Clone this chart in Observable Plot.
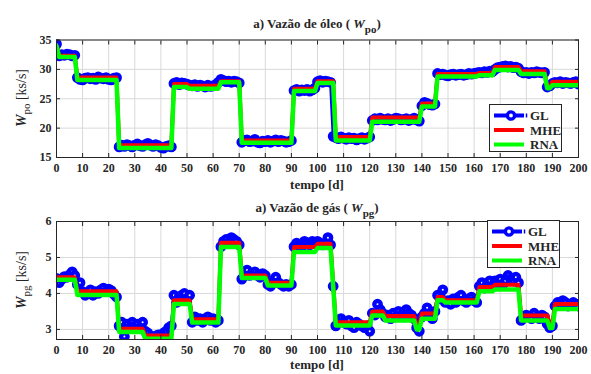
<!DOCTYPE html>
<html><head><meta charset="utf-8">
<script src="https://cdn.jsdelivr.net/npm/d3@7"></script>
<script src="https://cdn.jsdelivr.net/npm/@observablehq/plot@0.6"></script>
<style>
body{margin:0;background:#fff;}
#c{position:relative;width:591px;height:374px;overflow:hidden;color:#262626;background:#fff}
.p{position:absolute;left:0}
.t{position:absolute;font-size:13px;font-weight:bold;white-space:nowrap;transform:translateX(-50%);line-height:1}
.t sub{font-size:11px;vertical-align:-5px;line-height:0}
.yl{position:absolute;font-size:14px;white-space:nowrap;transform:translate(-50%,-50%) rotate(-90deg);line-height:1}
.yl i{font-weight:bold}
.yl sub{font-size:11px;vertical-align:-4px;line-height:0}
.lg{position:absolute;background:#fff;border:1px solid #262626;width:73px;height:48px;box-sizing:border-box}
.lg svg{position:absolute;left:0;top:0;overflow:visible}
</style></head>
<body>
<div id="c"></div>
<script>
// ---------- data ----------
const xTicks = [0,10,20,30,40,50,60,70,80,90,100,110,120,130,140,150,160,170,180,190,200];
const yTicksPo = [15,20,25,30,35];
const yTicksPg = [3,4,5,6];
const seriesNames = ["GL","MHE","RNA"];

// GL measurements, one per day (d = 0..200)
const glPo = [
 34.3,32.3,32.5,32.4,32.6,32.5,32.3,32.4,
 28.6,28.3,28.2,28.5,28.6,28.4,28.5,28.3,28.7,28.5,28.4,28.6,28.3,28.2,28.5,28.6,
 16.8,17.1,16.9,17.2,17.0,16.8,17.1,17.3,17.0,16.9,17.2,17.4,17.1,16.9,17.2,17.0,16.7,16.6,16.9,17.0,16.8,
 27.6,27.8,27.4,27.7,27.6,27.5,27.3,27.2,27.4,27.1,27.3,27.2,27.0,27.3,27.1,27.2,27.4,27.8,
 28.3,28.1,27.9,28.0,27.8,28.0,27.9,27.7,
 17.6,17.9,18.0,17.7,17.8,18.1,17.6,17.5,17.8,17.7,17.9,17.6,17.8,18.0,17.7,17.9,17.8,17.6,17.7,17.9,
 26.4,26.6,26.3,26.5,26.4,26.6,26.3,26.5,26.8,
 27.9,28.1,27.8,28.0,27.9,27.8,
 18.6,18.4,18.2,18.5,18.3,18.1,18.4,18.2,18.3,18.0,18.2,18.4,18.1,18.3,18.5,
 21.3,21.6,21.4,21.7,21.5,21.4,21.6,21.3,21.5,21.7,21.6,21.4,21.5,21.6,21.3,21.5,21.7,21.4,21.2,
 23.8,24.4,24.2,24.0,23.9,24.1,
 29.3,29.1,29.2,29.0,28.9,29.1,29.2,29.0,29.1,29.2,29.0,29.1,29.3,29.2,29.3,29.4,
 29.5,29.4,29.6,29.5,29.7,29.6,
 30.0,30.3,30.4,30.5,30.6,30.4,30.5,30.3,30.4,30.2,
 29.6,29.4,29.5,29.3,29.5,29.4,29.6,29.5,29.4,29.5,
 27.0,27.2,
 27.6,27.8,27.7,27.9,27.6,27.8,27.7,27.6,27.8,27.9,27.5
];
// MHE / RNA estimates: [day, value] points
const mhePo = [[0,34.0],[1,32.3],[7,32.3],[8,28.6],[23,28.6],[24,17.1],[44,17.1],[45,27.5],[50,27.5],[51,27.2],[62,27.2],[63,28.0],[70,28.0],[71,17.9],[90,17.9],[91,26.7],[99,26.7],[100,28.0],[106,28.0],[107,18.5],[120,18.5],[121,21.8],[139,21.8],[140,24.2],[145,24.2],[146,29.2],[161,29.2],[162,29.4],[167,29.4],[168,30.4],[177,30.4],[178,29.7],[187,29.7],[188,27.1],[189,27.1],[190,27.9],[200,27.9]];
const rnaPo = [[0,34.0],[1,32.1],[7,32.1],[8,28.2],[23,28.2],[24,16.6],[44,16.6],[45,27.0],[50,27.0],[51,26.7],[62,26.7],[63,27.8],[70,27.8],[71,17.5],[90,17.5],[91,26.3],[99,26.3],[100,27.7],[106,27.7],[107,17.9],[120,17.9],[121,21.1],[139,21.1],[140,23.7],[145,23.7],[146,28.8],[161,28.8],[162,29.0],[167,29.0],[168,29.9],[177,29.9],[178,29.2],[187,29.2],[188,26.8],[189,26.8],[190,27.3],[200,27.3]];

const glPg = [
 4.42,4.30,4.40,4.47,4.45,4.52,4.60,4.50,
 4.25,4.30,4.05,3.95,4.00,4.10,3.95,4.05,4.00,4.10,4.15,4.05,4.12,4.08,3.98,3.90,
 3.10,3.20,2.80,3.15,3.05,3.20,3.10,3.15,3.05,3.20,
 2.95,2.90,2.80,2.78,2.82,2.85,2.80,2.90,2.95,3.05,3.10,
 3.95,3.75,3.90,3.95,4.00,3.85,3.95,
 3.20,3.35,3.25,3.30,3.20,3.30,3.35,3.25,3.30,3.20,3.25,
 5.30,5.45,5.50,5.40,5.55,5.50,5.45,5.35,
 4.40,4.55,4.65,4.50,4.55,4.60,4.50,4.45,4.55,4.50,
 4.25,4.20,4.35,4.45,4.30,4.25,4.20,4.25,4.20,4.25,
 5.30,5.40,5.35,5.30,5.45,5.40,5.35,5.45,5.40,
 5.45,5.40,5.35,5.40,5.55,5.35,
 4.20,
 3.10,3.25,3.30,3.20,3.15,3.25,3.10,3.05,3.20,3.15,3.10,3.05,3.10,2.95,
 3.45,3.40,3.70,3.55,3.45,
 3.35,3.40,3.30,3.45,3.35,3.50,3.40,3.35,3.55,3.45,3.40,3.30,
 3.05,2.95,
 3.35,3.45,3.60,3.40,3.30,3.50,
 3.95,3.85,4.10,3.75,3.80,3.70,3.85,3.75,3.90,3.95,3.80,3.75,3.85,3.90,3.80,3.75,
 4.20,4.30,4.15,4.25,4.35,4.20,4.35,4.30,4.40,4.25,4.35,4.50,4.40,4.35,4.45,4.30,
 3.25,3.35,3.40,3.35,3.30,3.45,3.35,3.30,3.40,3.35,3.15,
 3.05,3.10,
 3.65,3.75,3.70,3.80,3.75,3.65,3.70,3.75,3.70,3.65
];
const mhePg = [[0,4.45],[7,4.45],[8,4.06],[23,4.06],[24,3.02],[33,3.02],[34,2.83],[44,2.83],[45,3.81],[51,3.81],[52,3.28],[62,3.28],[63,5.41],[70,5.41],[71,4.50],[80,4.50],[81,4.30],[90,4.30],[91,5.29],[99,5.29],[100,5.38],[105,5.38],[107,3.20],[120,3.20],[121,3.50],[125,3.50],[126,3.37],[137,3.37],[138,3.13],[139,3.13],[140,3.44],[145,3.44],[146,3.90],[148,3.90],[149,3.81],[161,3.81],[162,4.18],[167,4.18],[168,4.24],[177,4.24],[178,3.39],[188,3.39],[189,3.16],[190,3.16],[191,3.71],[200,3.71]];
const rnaPg = [[0,4.38],[7,4.38],[8,3.96],[23,3.96],[24,2.93],[33,2.93],[34,2.74],[44,2.74],[45,3.71],[51,3.71],[52,3.19],[62,3.19],[63,5.29],[70,5.29],[71,4.43],[80,4.43],[81,4.22],[90,4.22],[91,5.15],[99,5.15],[100,5.26],[105,5.26],[107,3.11],[120,3.11],[121,3.39],[125,3.39],[126,3.25],[137,3.25],[138,3.00],[139,3.00],[140,3.30],[145,3.30],[146,3.81],[148,3.81],[149,3.75],[161,3.75],[162,4.06],[167,4.06],[168,4.11],[177,4.11],[178,3.25],[188,3.25],[189,3.04],[190,3.04],[191,3.57],[200,3.57]];

// ---------- font: pick an installed Times-like serif ----------
function pickFont(cands) {
  const ctx = document.createElement("canvas").getContext("2d");
  const probe = "MHE Vazão de óleo 0123456789 mmmWWiil";
  ctx.font = "bold 30px monospace"; const wm = ctx.measureText(probe).width;
  ctx.font = "bold 30px sans-serif"; const ws = ctx.measureText(probe).width;
  for (const f of cands) {
    ctx.font = `bold 30px "${f}", monospace`; const a = ctx.measureText(probe).width;
    ctx.font = `bold 30px "${f}", sans-serif`; const b = ctx.measureText(probe).width;
    if (a !== wm || b !== ws) return `"${f}", serif`;
  }
  return "serif";
}
const FONT = pickFont(["Liberation Serif", "Times New Roman", "Tinos", "Nimbus Roman", "Times", "DejaVu Serif"]);

// ---------- drawing ----------
const BLUE = "#0000ff", RED = "#ff0000", GREEN = "#00ff00", INK = "#262626";
const container = document.getElementById("c");
container.style.fontFamily = FONT;

function panel(gl, mhe, rna, yDomain, yTicks, top, opts) {
  const glRows = gl.map((v, i) => ({d: i, v}));
  const chart = Plot.plot({
    width: 591, height: opts.height,
    marginLeft: 56, marginRight: 13, marginTop: opts.mt, marginBottom: opts.mb,
    style: {fontFamily: FONT, fontSize: "12px", fontWeight: "bold", color: INK, background: "white"},
    x: {domain: [0, 200]},
    y: {domain: yDomain},
    marks: [
      Plot.gridX(xTicks, {stroke: "#d9d9d9", strokeOpacity: 1}),
      Plot.gridY(yTicks, {stroke: "#d9d9d9", strokeOpacity: 1}),
      Plot.line(glRows, {x: "d", y: "v", stroke: BLUE, strokeWidth: 3, clip: true}),
      Plot.dot(glRows, {x: "d", y: "v", r: 3.2, stroke: BLUE, strokeWidth: 4.4, fill: "white", clip: true}),
      Plot.line(mhe, {x: d => d[0], y: d => d[1], stroke: RED, strokeWidth: 4, clip: true}),
      Plot.line(rna, {x: d => d[0], y: d => d[1], stroke: GREEN, strokeWidth: 4.5, clip: true}),
      Plot.frame({stroke: INK, strokeWidth: 1}),
      Plot.axisX(xTicks, {anchor: "bottom", tickSize: 0, tickPadding: 6, label: null, fill: INK}),
      Plot.axisX(xTicks, {anchor: "bottom", tickSize: -4, tickFormat: () => "", label: null, stroke: INK}),
      Plot.axisX(xTicks, {anchor: "top", tickSize: -4, tickFormat: () => "", label: null, stroke: INK}),
      Plot.axisY(yTicks, {anchor: "left", tickSize: 0, tickPadding: 5, label: null, fill: INK}),
      Plot.axisY(yTicks, {anchor: "left", tickSize: -4, tickFormat: () => "", label: null, stroke: INK}),
      Plot.axisY(yTicks, {anchor: "right", tickSize: -4, tickFormat: () => "", label: null, stroke: INK})
    ]
  });
  chart.classList.add("p");
  chart.style.top = top + "px";
  container.appendChild(chart);
}

panel(glPo, mhePo, rnaPo, [15, 35], yTicksPo, 0, {height: 187, mt: 39.5, mb: 30});
panel(glPg, mhePg, rnaPg, [2.72, 6], yTicksPg, 187, {height: 187, mt: 34, mb: 35});

function addHTML(html) { container.insertAdjacentHTML("beforeend", html); }
addHTML('<div class="t" style="left:317px;top:17px">a) Vazão de óleo ( <i>W</i><sub>po</sub>)</div>');
addHTML('<div class="t" style="left:317px;top:178px">tempo [d]</div>');
addHTML('<div class="t" style="left:317px;top:201px">a) Vazão de gás ( <i>W</i><sub>pg</sub>)</div>');
addHTML('<div class="t" style="left:317px;top:358px">tempo [d]</div>');
addHTML('<div class="yl" style="left:22px;top:98px"><i>W</i><sub>po</sub> [ks/s]</div>');
addHTML('<div class="yl" style="left:22px;top:280px"><i>W</i><sub>pg</sub> [ks/s]</div>');

function legend(left, top) {
  const colors = [BLUE, RED, GREEN];
  let s = `<svg width="71" height="46" style="font-family:${FONT.replace(/"/g, "'")};font-weight:bold;font-size:13px">`;
  seriesNames.forEach((n, i) => {
    const y = 10.5 + i * 14.5;
    s += `<line x1="4" x2="34" y1="${y}" y2="${y}" stroke="${colors[i]}" stroke-width="4"/>`;
    if (i === 0) {
      s += `<circle cx="21" cy="${y}" r="3.6" fill="white" stroke="${BLUE}" stroke-width="3.4"/>`;
      s += `<line x1="36.5" x2="36.5" y1="${y - 2}" y2="${y + 2}" stroke="${BLUE}" stroke-width="1.5"/>`;
    }
    s += `<text x="40" y="${y}" dy="0.36em" fill="${INK}">${n}</text>`;
  });
  s += '</svg>';
  addHTML(`<div class="lg" style="left:${left}px;top:${top}px">${s}</div>`);
}
legend(489, 104);
legend(487, 220);
</script>
</body></html>
